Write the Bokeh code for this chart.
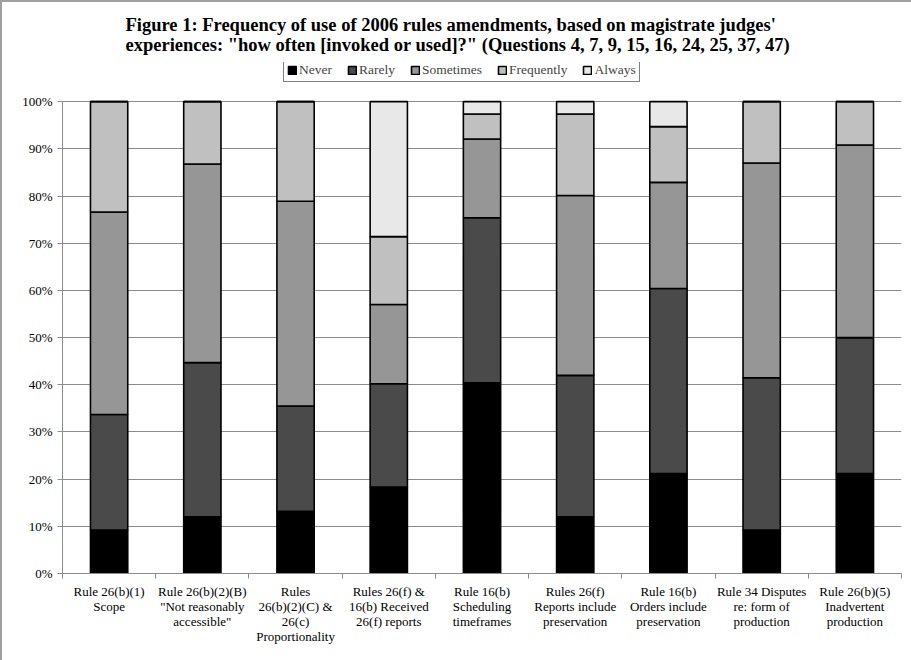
from bokeh.plotting import figure
from bokeh.models import (ColumnDataSource, FixedTicker, Legend, LegendItem,
                          PrintfTickFormatter, Range1d)
from bokeh.embed import file_html
from bokeh.resources import INLINE

# Survey items (x-axis categories)
categories = [
    "Rule 26(b)(1)\nScope",
    "Rule 26(b)(2)(B)\n\"Not reasonably\naccessible\"",
    "Rules\n26(b)(2)(C) &\n26(c)\nProportionality",
    "Rules 26(f) &\n16(b) Received\n26(f) reports",
    "Rule 16(b)\nScheduling\ntimeframes",
    "Rules 26(f)\nReports include\npreservation",
    "Rule 16(b)\nOrders include\npreservation",
    "Rule 34 Disputes\nre: form of\nproduction",
    "Rule 26(b)(5)\nInadvertent\nproduction",
]

# Share of responses (%) per frequency level
never      = [9.2, 12.0, 13.2, 18.3, 40.4, 12.0, 21.2, 9.2, 21.2]
rarely     = [24.5, 32.7, 22.3, 21.9, 35.0, 30.0, 39.2, 32.3, 28.8]
sometimes  = [42.9, 42.1, 43.4, 16.8, 16.7, 38.1, 22.5, 45.5, 40.8]
frequently = [23.4, 13.2, 21.1, 14.4, 5.3, 17.3, 11.8, 13.0, 9.2]
always     = [0.0, 0.0, 0.0, 28.6, 2.6, 2.6, 5.3, 0.0, 0.0]

levels = ["Never", "Rarely", "Sometimes", "Frequently", "Always"]
colors = ["#000000", "#4a4a4a", "#969696", "#c0c0c0", "#e8e8e8"]

n = len(categories)
xpos = [i + 0.5 for i in range(n)]
source = ColumnDataSource(dict(x=xpos, Never=never, Rarely=rarely,
                               Sometimes=sometimes, Frequently=frequently,
                               Always=always))

SERIF = "Liberation Serif"

# The frame reaches a little above 100% so the legend box can sit inside it.
p = figure(width=911, height=660, output_backend="svg", toolbar_location=None,
           x_range=Range1d(0, n), y_range=Range1d(0, 108.3),
           min_border_left=60, min_border_right=12, min_border_bottom=89,
           min_border_top=60, outline_line_color=None,
           styles={"border-top": "2px solid #a0a0a0",
                   "border-left": "2px solid #a0a0a0",
                   "box-sizing": "border-box"})

p.title.text = ("Figure 1: Frequency of use of 2006 rules amendments, based on magistrate judges'\n"
                "experiences: \"how often [invoked or used]?\" (Questions 4, 7, 9, 15, 16, 24, 25, 37, 47)")
p.title.align = "left"
p.title.offset = 63
p.title.standoff = 16
p.title.text_line_height = 1.0
p.title.text_font = SERIF
p.title.text_font_size = "18.5px"
p.title.text_font_style = "bold"
p.title.text_color = "#000000"

renderers = p.vbar_stack(levels, x="x", width=0.4, source=source,
                         fill_color=colors, line_color="#000000", line_width=1.6)

# Axes
p.yaxis.ticker = FixedTicker(ticks=list(range(0, 101, 10)))
p.yaxis.bounds = (0, 100)
p.yaxis.formatter = PrintfTickFormatter(format="%d%%")
p.yaxis.major_label_text_font = SERIF
p.yaxis.major_label_text_font_size = "13px"
p.yaxis.major_label_text_color = "#000000"
p.yaxis.axis_line_color = "#8c8c8c"
p.yaxis.major_tick_line_color = "#8c8c8c"
p.yaxis.major_tick_in = 0
p.yaxis.major_tick_out = 5
p.yaxis.minor_tick_line_color = None

p.xaxis.ticker = FixedTicker(ticks=xpos, minor_ticks=list(range(0, n + 1)))
p.xaxis.major_label_overrides = {x: c for x, c in zip(xpos, categories)}
p.xaxis.major_label_text_font = SERIF
p.xaxis.major_label_text_font_size = "13px"
p.xaxis.major_label_text_line_height = 1.0
p.xaxis.major_label_text_color = "#000000"
p.xaxis.major_label_standoff = 4
p.xaxis.major_tick_line_color = None
p.xaxis.minor_tick_line_color = "#8c8c8c"
p.xaxis.minor_tick_in = 0
p.xaxis.minor_tick_out = 5
p.xaxis.axis_line_color = "#8c8c8c"

p.xgrid.grid_line_color = None
p.ygrid.grid_line_color = "#8c8c8c"
p.ygrid.grid_line_width = 1

legend = Legend(items=[LegendItem(label=l, renderers=[r]) for l, r in zip(levels, renderers)],
                orientation="horizontal", location=(221, 491),
                label_text_font=SERIF, label_text_font_size="13.5px",
                glyph_width=10, glyph_height=10, label_standoff=2, spacing=15,
                padding=3, margin=0, border_line_color="#000000",
                border_line_width=1, label_height=12)
p.add_layout(legend, "center")

open("out.html", "w").write(file_html(p, INLINE))
